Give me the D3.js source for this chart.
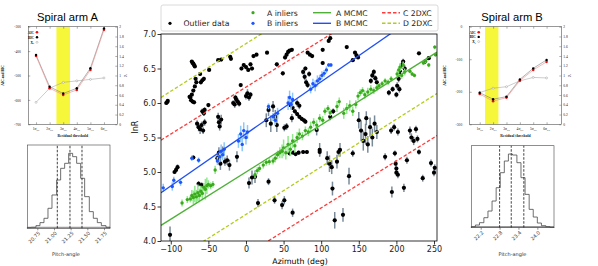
<!DOCTYPE html>
<html>
<head>
<meta charset="utf-8">
<script src="https://cdn.jsdelivr.net/npm/d3@7/dist/d3.min.js"></script>
<style>
  body { margin: 0; background: #fff; }
  svg { display: block; }
</style>
</head>
<body>
<svg id="chart" width="598" height="266"></svg>
<script>
// ---- main panel data: [azimuth, lnR, error] ----
const outliers = [
  [-106, 6.00, 0.02], [-105, 6.01, 0.02], [-104, 6.03, 0.02], [-101, 4.09, 0.12],
  [-95, 5.00, 0.03], [-93, 5.03, 0.03], [-91, 5.07, 0.04], [-75, 6.09, 0.03],
  [-72, 6.60, 0.02], [-71, 6.58, 0.02], [-70, 6.57, 0.02], [-69, 6.55, 0.02], [-68, 6.53, 0.02],
  [-70, 5.21, 0.03],
  [-67, 6.35, 0.02], [-66, 6.30, 0.02], [-68, 6.24, 0.02], [-70, 6.18, 0.02], [-72, 6.12, 0.02],
  [-74, 6.08, 0.02], [-73, 6.04, 0.02], [-71, 6.02, 0.02], [-69, 6.01, 0.02],
  [-63, 4.83, 0.04], [-59, 4.81, 0.04], [-61, 6.42, 0.03],
  [-60, 6.30, 0.03], [-58, 6.33, 0.03], [-56, 6.35, 0.03],
  [-58, 5.88, 0.04], [-56, 5.85, 0.04], [-55, 5.90, 0.04], [-50, 5.97, 0.03], [-49, 6.48, 0.02],
  [-65, 5.70, 0.05], [-63, 5.65, 0.06], [-61, 5.62, 0.07], [-59, 5.68, 0.05], [-57, 5.60, 0.05], [-55, 5.72, 0.05],
  [-37, 5.80, 0.06], [-36, 5.72, 0.08], [-35, 5.66, 0.06], [-33, 5.76, 0.07],
  [-37, 6.62, 0.02], [-33, 6.63, 0.02], [-21, 6.67, 0.02], [-20, 6.64, 0.02],
  [-38, 5.20, 0.06], [-36, 5.28, 0.08], [-34, 5.12, 0.09], [-31, 5.30, 0.07], [-28, 5.15, 0.06],
  [-25, 5.17, 0.07], [-22, 5.10, 0.08], [-12, 5.22, 0.08], [-7, 6.26, 0.02],
  [-17, 6.00, 0.04], [-15, 5.98, 0.05], [-13, 6.05, 0.04], [-11, 6.02, 0.05], [-9, 5.99, 0.04], [-14, 6.08, 0.04],
  [0, 6.10, 0.05], [2, 6.14, 0.06], [4, 6.08, 0.05], [6, 6.12, 0.04],
  [-6, 6.50, 0.03], [-3, 6.55, 0.03], [0, 6.52, 0.03], [3, 6.48, 0.03], [6, 6.56, 0.03], [8, 6.50, 0.03],
  [10, 6.68, 0.02], [14, 6.70, 0.02], [28, 6.73, 0.02], [41, 6.56, 0.03], [49, 6.43, 0.03],
  [52, 6.66, 0.03], [54, 6.70, 0.03], [56, 6.74, 0.03], [58, 6.76, 0.02],
  [27, 5.75, 0.10], [30, 5.90, 0.09], [33, 5.70, 0.12], [36, 5.95, 0.08], [39, 5.80, 0.10], [41, 5.68, 0.10],
  [51, 5.64, 0.05], [54, 5.66, 0.05], [61, 5.78, 0.06], [68, 6.00, 0.05], [71, 5.96, 0.05],
  [4, 4.84, 0.08], [8, 4.92, 0.10], [12, 4.93, 0.09], [16, 4.55, 0.06], [30, 4.86, 0.05],
  [38, 4.59, 0.05], [48, 4.52, 0.06], [51, 4.59, 0.06], [62, 4.41, 0.06],
  [58, 5.27, 0.03], [63, 5.28, 0.03], [66, 5.26, 0.03], [70, 5.28, 0.03], [76, 5.29, 0.03], [81, 5.29, 0.03],
  [59, 5.97, 0.03], [62, 5.93, 0.03], [65, 5.88, 0.03], [68, 5.84, 0.03], [71, 5.80, 0.03],
  [74, 5.77, 0.03], [77, 5.75, 0.03], [79, 5.73, 0.03],
  [76, 6.45, 0.04], [78, 6.38, 0.05], [80, 6.30, 0.05], [82, 6.26, 0.04], [84, 6.42, 0.04], [79, 6.50, 0.03],
  [61, 6.77, 0.02], [82, 6.73, 0.02], [85, 6.70, 0.02], [88, 6.68, 0.02], [102, 6.77, 0.02], [134, 6.81, 0.02],
  [145, 6.73, 0.02], [147, 6.69, 0.02], [149, 6.66, 0.02], [142, 6.62, 0.02], [110, 6.90, 0.02], [112, 6.94, 0.02],
  [94, 5.61, 0.08], [98, 5.32, 0.10], [125, 5.32, 0.10],
  [98, 5.29, 0.05], [108, 5.20, 0.10], [111, 5.12, 0.12], [114, 5.07, 0.10], [115, 4.76, 0.10],
  [118, 4.30, 0.12], [121, 5.15, 0.10], [123, 5.29, 0.05], [129, 4.38, 0.10], [137, 4.94, 0.12], [142, 5.27, 0.05],
  [102, 6.58, 0.03], [112, 5.80, 0.05], [116, 5.88, 0.04],
  [150, 5.75, 0.12], [153, 5.60, 0.15], [156, 5.45, 0.14], [159, 5.55, 0.15], [162, 5.40, 0.12],
  [165, 5.65, 0.14], [168, 5.50, 0.13], [171, 5.70, 0.12], [174, 5.58, 0.10], [160, 5.78, 0.10],
  [166, 6.32, 0.04], [168, 6.40, 0.04], [170, 6.45, 0.04], [172, 6.36, 0.04], [174, 6.30, 0.04],
  [201, 6.25, 0.05], [203, 6.35, 0.05], [205, 6.45, 0.05], [207, 6.55, 0.05], [209, 6.60, 0.04],
  [211, 6.50, 0.05], [204, 6.20, 0.05], [190, 6.15, 0.04], [195, 6.20, 0.04], [200, 6.12, 0.04],
  [193, 5.60, 0.05], [197, 5.65, 0.05], [202, 5.58, 0.05],
  [218, 5.60, 0.06], [220, 5.50, 0.06], [223, 5.45, 0.06], [226, 5.62, 0.05], [228, 5.48, 0.05],
  [185, 5.22, 0.05], [194, 4.71, 0.08], [198, 5.27, 0.04], [199, 5.12, 0.05], [200, 5.05, 0.06],
  [200, 4.99, 0.05], [202, 4.96, 0.05], [210, 4.77, 0.06], [214, 5.17, 0.05], [230, 5.29, 0.04],
  [235, 4.91, 0.05], [246, 5.13, 0.05], [250, 4.99, 0.05], [251, 5.06, 0.05],
  [230, 6.72, 0.02], [238, 6.60, 0.03], [243, 6.65, 0.02]
];
const aInliers = [
  [-85, 4.55, 0.05], [-78, 4.60, 0.05], [-74, 4.61, 0.05], [-72, 4.66, 0.08], [-70, 4.63, 0.10],
  [-68, 4.68, 0.12], [-66, 4.64, 0.10], [-64, 4.70, 0.12], [-62, 4.66, 0.10], [-60, 4.72, 0.08],
  [-58, 4.69, 0.10], [-56, 4.78, 0.06], [-54, 4.75, 0.15], [-52, 4.80, 0.12], [-50, 4.82, 0.06],
  [-47, 4.80, 0.05], [-44, 4.82, 0.05], [-41, 5.03, 0.06],
  [12, 4.96, 0.05], [15, 5.02, 0.05], [18, 5.05, 0.05], [23, 5.10, 0.05], [27, 5.14, 0.05],
  [31, 5.15, 0.05], [36, 5.16, 0.05], [39, 5.20, 0.06], [42, 5.25, 0.06], [45, 5.28, 0.08],
  [48, 5.30, 0.10], [50, 5.35, 0.12], [53, 5.28, 0.10], [56, 5.40, 0.12], [59, 5.33, 0.10],
  [62, 5.45, 0.10], [65, 5.38, 0.10], [68, 5.50, 0.08], [71, 5.55, 0.08], [75, 5.52, 0.06],
  [79, 5.60, 0.06], [83, 5.58, 0.06], [86, 5.65, 0.08], [90, 5.72, 0.06], [94, 5.68, 0.07],
  [98, 5.78, 0.06], [102, 5.75, 0.06], [105, 5.88, 0.05], [109, 5.92, 0.05], [112, 5.86, 0.05],
  [121, 5.95, 0.08], [124, 6.02, 0.06], [130, 5.85, 0.08], [134, 5.92, 0.08], [138, 5.96, 0.08],
  [142, 5.88, 0.07], [146, 5.98, 0.06], [149, 6.10, 0.06], [152, 6.15, 0.05], [155, 6.18, 0.05],
  [158, 6.12, 0.06], [162, 6.16, 0.06], [166, 6.20, 0.06], [170, 6.18, 0.05], [174, 6.22, 0.05],
  [177, 6.25, 0.04], [181, 6.28, 0.04], [185, 6.32, 0.04], [189, 6.30, 0.04], [193, 6.35, 0.04],
  [201, 6.42, 0.05], [203, 6.48, 0.05], [205, 6.52, 0.06], [207, 6.40, 0.05], [209, 6.55, 0.05],
  [211, 6.45, 0.05], [218, 6.46, 0.03], [221, 6.42, 0.03], [224, 6.40, 0.03],
  [236, 6.58, 0.03], [239, 6.61, 0.03], [243, 6.55, 0.03], [251, 6.81, 0.03], [252, 6.70, 0.03]
];
const bInliers = [
  [-110, 4.77, 0.06], [-98, 4.79, 0.06], [-96, 4.88, 0.05], [-87, 4.85, 0.05], [-72, 5.20, 0.04],
  [-63, 5.17, 0.04], [-38, 5.16, 0.06], [-35, 5.22, 0.08], [-33, 5.30, 0.10], [-31, 5.25, 0.08],
  [-29, 5.33, 0.10], [-10, 5.45, 0.10], [-7, 5.55, 0.12], [-5, 5.40, 0.10], [-3, 5.60, 0.12],
  [0, 5.50, 0.10], [2, 5.58, 0.10], [30, 5.95, 0.04], [36, 5.80, 0.06], [39, 5.75, 0.07],
  [42, 5.85, 0.08], [56, 6.00, 0.10], [58, 6.08, 0.10], [60, 5.98, 0.08], [62, 6.05, 0.10],
  [86, 6.20, 0.06], [89, 6.28, 0.07], [92, 6.25, 0.08], [95, 6.32, 0.08], [98, 6.35, 0.06],
  [101, 6.40, 0.06], [104, 6.43, 0.05], [107, 6.48, 0.05], [110, 6.55, 0.03], [113, 6.55, 0.03]
];
// fitted lines: lnR = intercept + slope * azimuth
const fitNames = ['A MCMC', 'B MCMC', 'C 2DXC', 'C 2DXC', 'D 2DXC', 'D 2DXC'];
const fitIntercepts = [5.00, 5.553, 6.23, 3.80, 6.86, 4.385];
const fitSlopes = [0.00684, 0.00755, 0.0068, 0.0068, 0.0069, 0.0069];
const azTicks = [-100, -50, 0, 50, 100, 150, 200, 250];
const lnRTicks = [4.0, 4.5, 5.0, 5.5, 6.0, 6.5, 7.0];

// ---- side panels: model selection ----
const thresholds = [1, 2, 3, 4, 5, 6];
const aicA = [-420, -552, -580, -559, -477, -313];
const bicA = [-416, -546, -574, -552, -470, -307];
const chiA = [0.45, 0.74, 0.86, 0.89, 0.92, 0.95];
const aicB = [-207, -229, -218, -166, -133, -108];
const bicB = [-203, -223, -215, -162, -128, -102];
const chiB = [0.65, 0.74, 0.77, 0.89, 0.96, 0.95];
const chiTicks = [0, 0.2, 0.4, 0.6, 0.8, 1, 1.2, 1.4, 1.6, 1.8, 2];
const icTicksA = [-700, -600, -500, -400, -300];
const icTicksB = [-300, -200, -100, 0];

// ---- pitch-angle histograms ----
const pitchEdgesA = [20.60, 20.66, 20.73, 20.79, 20.85, 20.91, 20.97, 21.04, 21.10, 21.16, 21.22,
  21.28, 21.34, 21.40, 21.46, 21.53, 21.59, 21.65, 21.71, 21.78, 21.84];
const pitchCountsA = [2, 3, 8, 17, 30, 60, 100, 145, 180, 195, 225, 215, 195, 150, 95, 50, 30, 17, 8, 3];
const pitchQuantA = [21.05, 21.24, 21.42];
const pitchTicksA = [20.75, 21.00, 21.25, 21.50, 21.75];
const pitchEdgesB = [21.90, 22.03, 22.16, 22.30, 22.43, 22.56, 22.69, 22.82, 22.95, 23.08, 23.21,
  23.35, 23.48, 23.61, 23.74, 23.87, 24.00, 24.13, 24.27, 24.40, 24.53];
const pitchCountsB = [3, 8, 15, 30, 50, 80, 120, 165, 200, 221, 218, 195, 150, 100, 55, 32, 14, 6, 3, 1];
const pitchQuantB = [22.80, 23.17, 23.57];
const pitchTicksB = [22.2, 22.8, 23.4, 24.0];

const svg = d3.select('#chart');
const sans = 'DejaVu Sans, sans-serif';
const serif = 'Liberation Serif, DejaVu Serif, serif';

// ================= main scatter =================
const M = { left: 161, right: 437, top: 34, bottom: 241 };
const x = d3.scaleLinear().domain([-113, 254]).range([M.left, M.right]);
const y = d3.scaleLinear().domain([4, 7]).range([M.bottom, M.top]);

svg.append('clipPath').attr('id', 'clipMain')
  .append('rect').attr('x', M.left).attr('y', M.top)
  .attr('width', M.right - M.left).attr('height', M.bottom - M.top);

const plot = svg.append('g').attr('clip-path', 'url(#clipMain)');

const lineStyle = {
  'A MCMC': { color: '#4fb038', dash: null },
  'B MCMC': { color: '#1f4ff5', dash: null },
  'C 2DXC': { color: '#ff3c3c', dash: '3.5,2' },
  'D 2DXC': { color: '#b4cc1c', dash: '3.5,2' }
};

function drawSet(data, dotColor, errColor, r) {
  plot.selectAll(null).data(data).enter().append('line')
    .attr('x1', d => x(d[0])).attr('x2', d => x(d[0]))
    .attr('y1', d => y(d[1] - d[2])).attr('y2', d => y(d[1] + d[2]))
    .attr('stroke', errColor).attr('stroke-width', 1.5);
  plot.selectAll(null).data(data).enter().append('circle')
    .attr('cx', d => x(d[0])).attr('cy', d => y(d[1]))
    .attr('r', r).attr('fill', dotColor);
}

drawSet(outliers, '#000', '#7a8a99', 2.1);
drawSet(aInliers, '#3aaa1c', '#8fe88a', 1.7);
drawSet(bInliers, '#1f55ff', '#8cc8fa', 1.7);

fitNames.forEach((name, i) => {
  const [x0, x1] = x.domain();
  const s = lineStyle[name];
  plot.append('line')
    .attr('x1', x(x0)).attr('y1', y(fitIntercepts[i] + fitSlopes[i] * x0))
    .attr('x2', x(x1)).attr('y2', y(fitIntercepts[i] + fitSlopes[i] * x1))
    .attr('stroke', s.color).attr('stroke-width', 1.3)
    .attr('stroke-dasharray', s.dash);
});

// frame and axes
svg.append('rect').attr('x', M.left).attr('y', M.top)
  .attr('width', M.right - M.left).attr('height', M.bottom - M.top)
  .attr('fill', 'none').attr('stroke', '#000').attr('stroke-width', 0.8);

const xAxis = svg.append('g').attr('transform', `translate(0,${M.bottom})`)
  .call(d3.axisBottom(x).tickValues(azTicks).tickSize(3.5).tickPadding(1.8));
const yAxis = svg.append('g').attr('transform', `translate(${M.left},0)`)
  .call(d3.axisLeft(y).tickValues(lnRTicks).tickSize(3.5).tickPadding(1.5).tickFormat(d3.format('.1f')));
[xAxis, yAxis].forEach(a => {
  a.select('.domain').remove();
  a.selectAll('line').attr('stroke-width', 0.8);
  a.selectAll('text').style('font-family', sans).style('font-size', '8px').attr('fill', '#222');
});

svg.append('text').attr('x', 300).attr('y', 263.5).attr('text-anchor', 'middle')
  .style('font-family', sans).style('font-size', '7.8px').text('Azimuth (deg)');
svg.append('text').attr('transform', 'translate(138,127) rotate(-90)').attr('text-anchor', 'middle')
  .style('font-family', sans).style('font-size', '8px').text('lnR');

// legend
const legendItems = [
  { label: 'Outlier data', kind: 'dot', color: '#000', col: 0, row: 1 },
  { label: 'A inliers', kind: 'dot', color: '#3aaa1c', col: 1, row: 0 },
  { label: 'B inliers', kind: 'dot', color: '#1f55ff', col: 1, row: 1 },
  { label: 'A MCMC', kind: 'line', color: lineStyle['A MCMC'].color, col: 2, row: 0 },
  { label: 'B MCMC', kind: 'line', color: lineStyle['B MCMC'].color, col: 2, row: 1 },
  { label: 'C 2DXC', kind: 'dash', color: lineStyle['C 2DXC'].color, col: 3, row: 0 },
  { label: 'D 2DXC', kind: 'dash', color: lineStyle['D 2DXC'].color, col: 3, row: 1 }
];
const legCols = [170, 253, 322, 391];
const legText = [183.5, 267, 336, 403];
const legRows = [12.7, 23.3];
const leg = svg.append('g');
leg.append('rect').attr('x', 161).attr('y', 5).attr('width', 277).attr('height', 26).attr('rx', 2)
  .attr('fill', '#fff').attr('stroke', '#d0d0d0').attr('stroke-width', 0.8);
legendItems.forEach(it => {
  const cx = legCols[it.col], cy = legRows[it.row];
  if (it.kind === 'dot') {
    leg.append('circle').attr('cx', cx).attr('cy', cy).attr('r', 1.6).attr('fill', it.color);
  } else {
    leg.append('line').attr('x1', cx - 9).attr('x2', cx + 9).attr('y1', cy).attr('y2', cy)
      .attr('stroke', it.color).attr('stroke-width', 1.4)
      .attr('stroke-dasharray', it.kind === 'dash' ? '3.5,2' : null);
  }
  leg.append('text').attr('x', legText[it.col]).attr('y', cy + 2.8)
    .style('font-family', sans).style('font-size', '7.7px').attr('fill', '#222').text(it.label);
});

// ================= model selection panels =================
function drawCriteria(p) {
  const gx = d3.scaleLinear().domain(p.xDomain).range([p.left, p.right]);
  const gy = d3.scaleLinear().domain(p.yDomain).range([p.bottom, p.top]);
  const gy2 = d3.scaleLinear().domain([0, 2]).range([p.bottom, p.top]);
  const pg = svg.append('g');

  pg.append('text').attr('x', p.titleX).attr('y', 21).attr('text-anchor', 'middle')
    .style('font-family', 'Liberation Sans, Arial, sans-serif').style('font-size', '11.2px').text(p.title);

  pg.append('rect').attr('x', gx(p.band[0])).attr('y', p.top)
    .attr('width', gx(p.band[1]) - gx(p.band[0])).attr('height', p.bottom - p.top)
    .attr('fill', '#f6f63a');

  const fs = '3.6px';
  const ax = [
    pg.append('g').attr('transform', `translate(${p.left},0)`)
      .call(d3.axisLeft(gy).tickValues(p.yTicks).tickSize(-2).tickPadding(7.5).tickFormat(d => String(d))),
    pg.append('g').attr('transform', `translate(${p.right},0)`)
      .call(d3.axisRight(gy2).tickValues(chiTicks).tickSize(-2).tickPadding(2).tickFormat(d => String(d))),
    pg.append('g').attr('transform', `translate(0,${p.bottom})`)
      .call(d3.axisBottom(gx).tickValues(thresholds).tickSize(-2).tickFormat('')),
    pg.append('g').attr('transform', `translate(0,${p.top})`)
      .call(d3.axisTop(gx).tickValues(thresholds).tickSize(-2).tickFormat(''))
  ];
  ax.forEach(a => {
    a.select('.domain').remove();
    a.selectAll('line').attr('stroke', '#333').attr('stroke-width', 0.4);
    a.selectAll('text').style('font-family', serif).style('font-size', fs).attr('fill', '#222');
  });
  pg.append('rect').attr('x', p.left).attr('y', p.top)
    .attr('width', p.right - p.left).attr('height', p.bottom - p.top)
    .attr('fill', 'none').attr('stroke', '#333').attr('stroke-width', 0.5);

  // x tick labels  nσ_res
  thresholds.forEach(t => {
    const tx = pg.append('text').attr('x', gx(t)).attr('y', p.bottom + 5.5).attr('text-anchor', 'middle')
      .style('font-family', serif).style('font-size', fs).attr('fill', '#222');
    tx.append('tspan').text(t + 'σ');
    tx.append('tspan').attr('dy', 0.8).style('font-size', '2.4px').text('res');
  });
  pg.append('text').attr('x', (p.left + p.right) / 2).attr('y', p.bottom + 13).attr('text-anchor', 'middle')
    .style('font-family', serif).style('font-size', '3.8px').style('font-weight', 'bold').attr('fill', '#222')
    .text('Residual threshold');
  pg.append('text').attr('transform', `translate(${p.left - 24},${(p.top + p.bottom) / 2}) rotate(-90)`)
    .attr('text-anchor', 'middle').style('font-family', serif).style('font-size', fs).style('font-weight', 'bold')
    .text('AIC and BIC');
  const chiLab = pg.append('text').attr('transform', `translate(${p.right + 9},${(p.top + p.bottom) / 2}) rotate(-90)`)
    .attr('text-anchor', 'middle').style('font-family', serif).style('font-size', '4.2px');
  chiLab.append('tspan').text('χ');
  chiLab.append('tspan').attr('dy', 0.9).style('font-size', '2.6px').text('r');

  const lineGen = (sc, vals) => d3.line().x((d, i) => gx(thresholds[i])).y(d => sc(d))(vals);
  pg.append('path').attr('d', lineGen(gy2, p.chi)).attr('fill', 'none').attr('stroke', '#999').attr('stroke-width', 0.5);
  pg.append('path').attr('d', lineGen(gy, p.bic)).attr('fill', 'none').attr('stroke', '#666').attr('stroke-width', 0.5);
  pg.append('path').attr('d', lineGen(gy, p.aic)).attr('fill', 'none').attr('stroke', '#f08a8a').attr('stroke-width', 0.6);

  pg.selectAll(null).data(p.chi).enter().append('circle')
    .attr('cx', (d, i) => gx(thresholds[i])).attr('cy', d => gy2(d)).attr('r', 1)
    .attr('fill', '#fff').attr('stroke', '#888').attr('stroke-width', 0.4);
  pg.selectAll(null).data(p.aic).enter().append('circle')
    .attr('cx', (d, i) => gx(thresholds[i])).attr('cy', d => gy(d)).attr('r', 1.3).attr('fill', '#ee1111');
  pg.selectAll(null).data(p.bic).enter().append('circle')
    .attr('cx', (d, i) => gx(thresholds[i])).attr('cy', d => gy(d)).attr('r', 1.2).attr('fill', '#000');

  // key
  const keys = [['AIC', 'aic'], ['BIC', 'bic'], ['χ', 'chi']];
  keys.forEach((k, i) => {
    const ky = p.keyY[i];
    pg.append('text').attr('x', p.keyX - 3).attr('y', ky + 1.2).attr('text-anchor', 'end')
      .style('font-family', serif).style('font-size', '3.4px').style('font-weight', 'bold').text(k[0] === 'χ' ? 'X' : k[0])
      .call(t => { if (k[0] === 'χ') t.append('tspan').attr('dy', 0.7).style('font-size', '2.3px').text('r'); });
    const c = pg.append('circle').attr('cx', p.keyX).attr('cy', ky);
    if (k[1] === 'aic') c.attr('r', 1.3).attr('fill', '#ee1111');
    else if (k[1] === 'bic') c.attr('r', 1.2).attr('fill', '#000');
    else c.attr('r', 1).attr('fill', '#fff').attr('stroke', '#888').attr('stroke-width', 0.4);
  });
}

drawCriteria({
  title: 'Spiral arm A', titleX: 67.5,
  left: 28.3, right: 117.3, top: 26.7, bottom: 124.3,
  xDomain: [0.43, 6.98], yDomain: [-700, -300], yTicks: icTicksA, band: [2.5, 3.5],
  aic: aicA, bic: bicA, chi: chiA, keyX: 37, keyY: [32.3, 37.3, 42.3]
});
drawCriteria({
  title: 'Spiral arm B', titleX: 512,
  left: 469.7, right: 561.3, top: 26.7, bottom: 124.3,
  xDomain: [0.25, 7.1], yDomain: [-300, 0], yTicks: icTicksB, band: [1.4, 2.4],
  aic: aicB, bic: bicB, chi: chiB, keyX: 478.7, keyY: [32.3, 36.9, 41.6]
});

// ================= pitch-angle histograms =================
function drawHist(p) {
  const hx = d3.scaleLinear().domain([p.edges[0], p.edges[p.edges.length - 1]]).range([p.left, p.right]);
  const hy = d3.scaleLinear().domain([0, 250]).range([p.bottom, p.top]);
  const hg = svg.append('g');

  const pts = [[p.edges[0], 0]];
  p.counts.forEach((c, i) => { pts.push([p.edges[i], c]); pts.push([p.edges[i + 1], c]); });
  pts.push([p.edges[p.edges.length - 1], 0]);
  hg.append('line').attr('x1', p.left).attr('x2', p.right).attr('y1', p.bottom - 0.8).attr('y2', p.bottom - 0.8)
    .attr('stroke', '#9a9a9a').attr('stroke-width', 1.6);
  hg.append('path').attr('d', d3.line().x(d => hx(d[0])).y(d => hy(d[1]))(pts))
    .attr('fill', 'none').attr('stroke', '#4a4a4a').attr('stroke-width', 0.8);

  p.quant.forEach(q => {
    hg.append('line').attr('x1', hx(q)).attr('x2', hx(q)).attr('y1', p.bottom).attr('y2', p.top)
      .attr('stroke', '#111').attr('stroke-width', 0.8).attr('stroke-dasharray', '2.5,1.5');
  });

  hg.append('rect').attr('x', p.left).attr('y', p.top)
    .attr('width', p.right - p.left).attr('height', p.bottom - p.top)
    .attr('fill', 'none').attr('stroke', '#444').attr('stroke-width', 0.6);

  const ax = hg.append('g').attr('transform', `translate(0,${p.bottom})`)
    .call(d3.axisBottom(hx).tickValues(p.ticks).tickSize(2).tickFormat(''));
  ax.select('.domain').remove();
  ax.selectAll('line').attr('stroke', '#444').attr('stroke-width', 0.6);

  p.ticks.forEach(t => {
    hg.append('text').attr('transform', `translate(${hx(t) + 2},${p.bottom + 4}) rotate(-45)`)
      .attr('text-anchor', 'end').attr('dy', '0.35em')
      .style('font-family', sans).style('font-size', '5px').attr('fill', '#333').text(p.fmt(t));
  });
  hg.append('text').attr('x', p.labelX).attr('y', 256).attr('text-anchor', 'middle')
    .style('font-family', sans).style('font-size', '5px').attr('fill', '#333').text('Pitch-angle');
}

drawHist({
  left: 27.3, right: 110, top: 145, bottom: 228.3,
  edges: pitchEdgesA, counts: pitchCountsA, quant: pitchQuantA, ticks: pitchTicksA,
  fmt: d3.format('.2f'), labelX: 66
});
drawHist({
  left: 471.3, right: 554, top: 145.7, bottom: 227.7,
  edges: pitchEdgesB, counts: pitchCountsB.map(c => c * 250 / 246), quant: pitchQuantB, ticks: pitchTicksB,
  fmt: d3.format('.1f'), labelX: 512.5
});
</script>
</body>
</html>
